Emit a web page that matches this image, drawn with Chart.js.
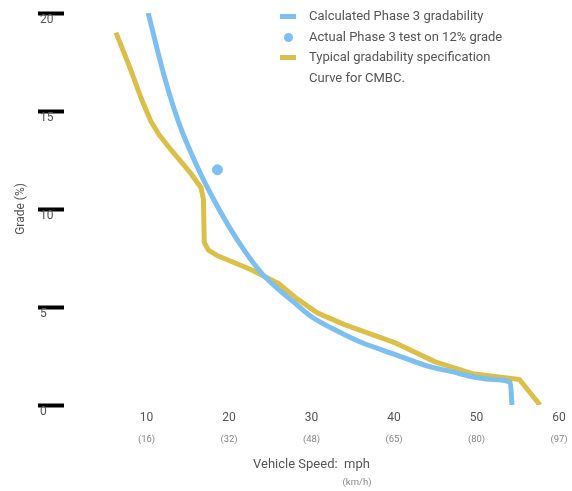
<!DOCTYPE html>
<html lang="en">

<head>
  <meta charset="UTF-8" />
  <title>Gradability</title>
  <script src="https://cdn.jsdelivr.net/npm/chart.js"></script>
  <style>
    body { margin: 0; background: #fff; font-family: Roboto, sans-serif; }
    #wrap { position: relative; width: 572px; height: 491px; }
    #legend { position: absolute; left: 279px; top: 6px; color: #555; font-size: 13px; line-height: 20.5px; }
    #legend .row { display: flex; align-items: flex-start; }
    #legend .sw { width: 30px; height: 20.5px; position: relative; flex: none; }
    #legend .line { position: absolute; left: 1px; top: 8px; width: 16px; height: 5px; }
    #legend .dot { position: absolute; left: 5px; top: 6px; width: 9px; height: 9px; border-radius: 50%; }
  </style>
</head>

<body>
  <div id="wrap">
    <canvas id="gradeChart"></canvas>
    <!-- legend sits inside the plot, top right -->
    <div id="legend">
      <div class="row"><span class="sw"><span class="line" style="background:#7cbff0"></span></span>Calculated Phase 3 gradability</div>
      <div class="row"><span class="sw"><span class="dot" style="background:#7cbff0"></span></span>Actual Phase 3 test on 12% grade</div>
      <div class="row"><span class="sw"><span class="line" style="background:#dcbf48"></span></span>Typical gradability specification<br>Curve for CMBC.</div>
    </div>
  </div>

  <script>
    // values (speed in mph, grade in %)
    const calcSpeed = [10.2, 12.2, 14, 16, 18, 20, 22, 24, 26, 28, 30, 33, 36, 40, 44, 47, 50, 52, 54.1, 54.3];
    const calcGrade = [20, 16.7, 14.3, 12.3, 10.6, 9.1, 7.8, 6.7, 5.9, 5.2, 4.5, 3.8, 3.2, 2.6, 2.0, 1.7, 1.4, 1.3, 1.15, 0];

    const testSpeed = [18.6];
    const testGrade = [12.0];

    const specSpeed = [6.3, 8, 9.4, 10.5, 11.5, 13, 15.4, 16.6, 16.9, 17.0, 17.5, 18.7, 22.7, 26, 28, 30.7, 34, 40, 45, 49.5, 55.2, 57.7];
    const specGrade = [19.0, 17.2, 15.6, 14.5, 13.8, 13.0, 11.8, 11.1, 10.5, 8.3, 7.9, 7.6, 6.9, 6.2, 5.5, 4.7, 4.1, 3.2, 2.2, 1.6, 1.3, 0];

    const mphTicks = [10, 20, 30, 40, 50, 60];
    const kmhLabels = ['(16)', '(32)', '(48)', '(65)', '(80)', '(97)'];
    const gradeTicks = [0, 5, 10, 15, 20];

    const blue = '#7cbff0';
    const yellow = '#dcbf48';
    const textGray = '#555';
    const lightGray = '#888';
    const fontFam = 'Roboto, sans-serif';

    function toPoints(xs, ys) {
      return xs.map((x, i) => ({ x: x, y: ys[i] }));
    }

    // bottom axes: fixed height, and no extra side padding for the end labels
    function fitBottom(h) {
      return axis => {
        axis.height = h;
        axis.paddingLeft = 0;
        axis.paddingRight = 0;
      };
    }

    // writes "(km/h)" right under the word "mph" of the axis title
    const unitPlugin = {
      id: 'unitLine',
      afterDraw(chart) {
        const scale = chart.scales.kmh;
        const t = scale.options.title;
        const ctx = chart.ctx;
        ctx.save();
        ctx.font = '13px ' + fontFam;
        const full = ctx.measureText(t.text).width;
        const mph = ctx.measureText('mph').width;
        const cx = (scale.left + scale.right) / 2 + full / 2 - mph / 2;
        ctx.font = '9.5px ' + fontFam;
        ctx.fillStyle = lightGray;
        ctx.textAlign = 'center';
        ctx.textBaseline = 'middle';
        ctx.fillText('(km/h)', cx, 483);
        ctx.restore();
      }
    };

    new Chart(document.getElementById('gradeChart'), {
      type: 'line',
      data: {
        datasets: [
          {
            label: 'Calculated Phase 3 gradability',
            data: toPoints(calcSpeed, calcGrade),
            borderColor: blue,
            borderWidth: 5,
            pointRadius: 0,
            cubicInterpolationMode: 'monotone',
            borderJoinStyle: 'round'
          },
          {
            label: 'Actual Phase 3 test on 12% grade',
            data: toPoints(testSpeed, testGrade),
            showLine: false,
            backgroundColor: blue,
            borderColor: blue,
            pointRadius: 5
          },
          {
            label: 'Typical gradability specification Curve for CMBC.',
            data: toPoints(specSpeed, specGrade),
            borderColor: yellow,
            borderWidth: 5,
            pointRadius: 0,
            borderJoinStyle: 'round'
          }
        ]
      },
      options: {
        responsive: true,
        maintainAspectRatio: false,
        animation: false,
        layout: { padding: { left: 40, top: 13, right: 13, bottom: 0 } },
        plugins: {
          legend: { display: false },
          tooltip: { enabled: false }
        },
        scales: {
          x: {
            type: 'linear',
            position: 'bottom',
            min: 0,
            max: 60,
            afterBuildTicks: axis => { axis.ticks = mphTicks.map(v => ({ value: v })); },
            afterFit: fitBottom(20),
            grid: { display: false, drawTicks: false },
            border: { display: false },
            ticks: { padding: 6, color: textGray, font: { family: fontFam, size: 12 } }
          },
          kmh: {
            type: 'linear',
            position: 'bottom',
            min: 0,
            max: 60,
            afterBuildTicks: axis => { axis.ticks = mphTicks.map(v => ({ value: v })); },
            afterFit: fitBottom(66),
            grid: { display: false, drawTicks: false },
            border: { display: false },
            ticks: {
              padding: 9,
              color: lightGray,
              font: { family: fontFam, size: 9.5 },
              callback: (v) => kmhLabels[mphTicks.indexOf(v)]
            },
            title: {
              display: true,
              text: 'Vehicle Speed:  mph',
              color: textGray,
              font: { family: fontFam, size: 13 },
              padding: { top: 0, bottom: 18 }
            }
          },
          y: {
            min: 0,
            max: 20,
            afterBuildTicks: axis => { axis.ticks = gradeTicks.map(v => ({ value: v })); },
            afterFit: axis => { axis.width = 24; },
            grid: {
              drawOnChartArea: false,
              drawTicks: true,
              tickLength: 26,
              tickWidth: 4,
              tickColor: '#000'
            },
            border: { display: false },
            ticks: {
              crossAlign: 'far',
              labelOffset: 7,
              padding: 0,
              color: textGray,
              font: { family: fontFam, size: 12 }
            },
            title: {
              display: true,
              text: 'Grade (%)',
              color: textGray,
              font: { family: fontFam, size: 12 },
              padding: { top: -26, bottom: 0 }
            }
          }
        }
      },
      plugins: [unitPlugin]
    });
  </script>
</body>

</html>
